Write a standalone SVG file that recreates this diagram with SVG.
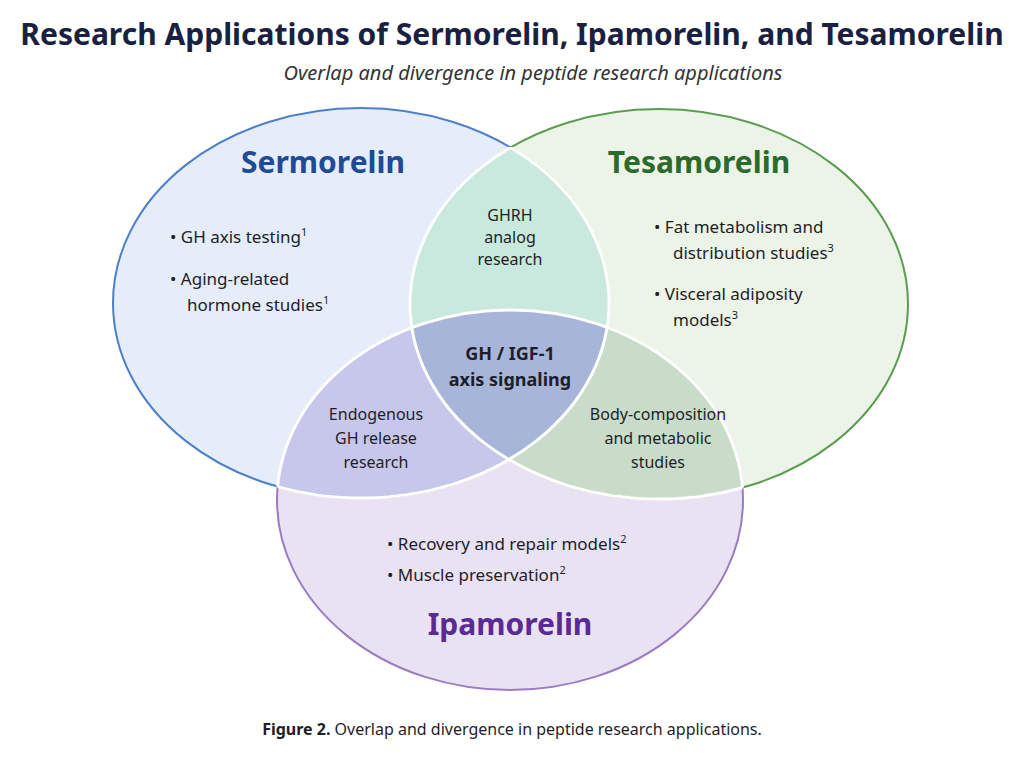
<svg xmlns="http://www.w3.org/2000/svg" width="1024" height="768" viewBox="0 0 1024 768">
<style>
text{font-family:"Noto Sans","Liberation Sans",sans-serif;fill:#1e1e28}
.b{font-size:17px}
.c{font-size:16px;text-anchor:middle}
.h{font-size:30px;font-weight:bold;text-anchor:middle}
sup{font-size:10px}
</style>
<defs>
<ellipse id="S" cx="361" cy="303" rx="248" ry="195"/>
<ellipse id="T" cx="659" cy="304" rx="249" ry="195"/>
<ellipse id="I" cx="510" cy="500" rx="233" ry="190"/>
<clipPath id="cS"><use href="#S"/></clipPath>
<clipPath id="cT"><use href="#T"/></clipPath>
<clipPath id="cI"><use href="#I"/></clipPath>
<clipPath id="cTI"><use href="#T"/><use href="#I"/></clipPath>
<clipPath id="cSI"><use href="#S"/><use href="#I"/></clipPath>
<clipPath id="cST"><use href="#S"/><use href="#T"/></clipPath>
</defs>
<rect width="1024" height="768" fill="#fff"/>
<text x="512" y="45" font-size="30" font-weight="bold" text-anchor="middle" fill="#1a2040" style="fill:#1a2040">Research Applications of Sermorelin, Ipamorelin, and Tesamorelin</text>
<text x="533" y="80" font-size="20" font-style="italic" text-anchor="middle" style="fill:#333">Overlap and divergence in peptide research applications</text>
<g id="sermorelin"><use href="#S" fill="#e4edf9"/></g>
<g id="tesamorelin"><use href="#T" fill="#ebf4e6"/></g>
<g id="ipamorelin"><use href="#I" fill="#e9e2f3"/></g>
<g id="overlaps">
<g clip-path="url(#cS)"><use href="#T" fill="#c9e9de"/></g>
<g clip-path="url(#cS)"><use href="#I" fill="#c6c7ea"/></g>
<g clip-path="url(#cT)"><use href="#I" fill="#c9dcca"/></g>
<g clip-path="url(#cS)"><g clip-path="url(#cT)"><use href="#I" fill="#a7b5d9"/></g></g>
</g>
<g id="connectors" fill="none" stroke-width="2">
<use href="#S" stroke="#4f80c6"/>
<use href="#T" stroke="#5c9c52"/>
<use href="#I" stroke="#9a7cc2"/>
<g stroke="#fff" stroke-width="3">
<use href="#S" clip-path="url(#cTI)"/>
<use href="#T" clip-path="url(#cSI)"/>
<use href="#I" clip-path="url(#cST)"/>
</g>
</g>
<text x="323" y="173" class="h" style="fill:#1f4a95">Sermorelin</text>
<text x="699" y="173" class="h" style="fill:#2a6a2c">Tesamorelin</text>
<text x="510" y="635" class="h" style="fill:#5a2a95">Ipamorelin</text>
<g class="b">
<text x="170" y="243">•  GH axis testing<tspan font-size="11" dy="-7">1</tspan></text>
<text x="170" y="285">•  Aging-related</text>
<text x="187" y="311">hormone studies<tspan font-size="11" dy="-7">1</tspan></text>
<text x="654" y="233">•  Fat metabolism and</text>
<text x="673" y="259">distribution studies<tspan font-size="11" dy="-7">3</tspan></text>
<text x="654" y="300">•  Visceral adiposity</text>
<text x="673" y="326">models<tspan font-size="11" dy="-7">3</tspan></text>
<text x="387" y="550">•  Recovery and repair models<tspan font-size="11" dy="-7">2</tspan></text>
<text x="387" y="581">•  Muscle preservation<tspan font-size="11" dy="-7">2</tspan></text>
</g>
<g class="c">
<text x="510" y="221">GHRH</text><text x="510" y="243">analog</text><text x="510" y="265">research</text>
<text x="376" y="420">Endogenous</text><text x="376" y="444">GH release</text><text x="376" y="468">research</text>
<text x="658" y="420">Body-composition</text><text x="658" y="444">and metabolic</text><text x="658" y="468">studies</text>
</g>
<text x="510" y="360" font-size="18" font-weight="bold" text-anchor="middle">GH / IGF-1</text>
<text x="510" y="386" font-size="18" font-weight="bold" text-anchor="middle">axis signaling</text>
<text x="512" y="735" font-size="16" text-anchor="middle"><tspan font-weight="bold">Figure 2.</tspan> Overlap and divergence in peptide research applications.</text>
</svg>
